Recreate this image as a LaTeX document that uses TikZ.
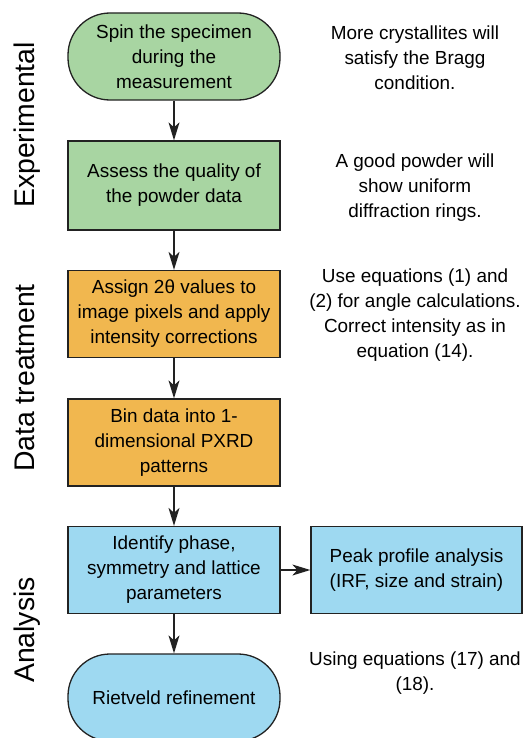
\documentclass[tikz,border=0pt]{standalone}
\usepackage{fontspec}
\setmainfont{Liberation Sans}
\usetikzlibrary{arrows.meta}
\definecolor{stepgreen}{RGB}{168,213,162}
\definecolor{steporange}{RGB}{241,183,79}
\definecolor{stepblue}{RGB}{158,217,241}
\definecolor{edgeline}{RGB}{34,34,34}
\begin{document}
\begin{tikzpicture}[x=1bp,y=-1bp,
  box/.style={draw=edgeline, line width=1.3bp, minimum width=212bp,
    minimum height=87bp, align=center, inner sep=0pt,
    font=\fontsize{19}{25}\selectfont},
  stadium/.style={box, rounded corners=42bp},
  flow/.style={draw=edgeline, line width=1.3bp,
    -{Stealth[length=18bp,width=11bp,inset=5bp]}},
  note/.style={align=center, inner sep=0pt, font=\fontsize{19}{25}\selectfont},
  side/.style={rotate=90, anchor=base, inner sep=0pt,
    font=\fontsize{28.5}{30}\selectfont}]
\useasboundingbox (0,0) rectangle (524,738);

% phase labels
\node[side] (labexp) at (34,125) {Experimental};
\node[side] (labdat) at (34,378) {Data treatment};
\node[side] (labana) at (34,630) {Analysis};

% workflow steps
\node[stadium, fill=stepgreen] (spin) at (174,56.5)
  {Spin the specimen\\during the\\measurement};
\node[box, fill=stepgreen, minimum height=89bp] (assess) at (174,185.5)
  {Assess the quality of\\the powder data};
\node[box, fill=steporange] (assign) at (174,314)
  {Assign 2θ values to\\image pixels and apply\\intensity corrections};
\node[box, fill=steporange] (bin) at (174,442.5)
  {Bin data into 1-\\dimensional PXRD\\patterns};
\node[box, fill=stepblue] (ident) at (174,570)
  {Identify phase,\\symmetry and lattice\\parameters};
\node[box, fill=stepblue, minimum width=211bp] (peak) at (416.5,570)
  {Peak profile analysis\\(IRF, size and strain)};
\node[stadium, fill=stepblue] (riet) at (174,697.5)
  {Rietveld refinement};

% connectors
\draw[flow] (spin) -- (assess);
\draw[flow] (assess) -- (assign);
\draw[flow] (assign) -- (bin);
\draw[flow] (bin) -- (ident);
\draw[flow] (ident) -- (peak);
\draw[flow] (ident) -- (riet);

% remarks
\node[note] (n1) at (415,58)
  {More crystallites will\\satisfy the Bragg\\condition.};
\node[note] (n2) at (415,188)
  {A good powder will\\show uniform\\diffraction rings.};
\node[note] (n3) at (415,315)
  {Use equations (1) and\\(2) for angle calculations.\\Correct intensity as in\\equation (14).};
\node[note] (n4) at (415,673)
  {Using equations (17) and\\(18).};
\end{tikzpicture}
\end{document}
